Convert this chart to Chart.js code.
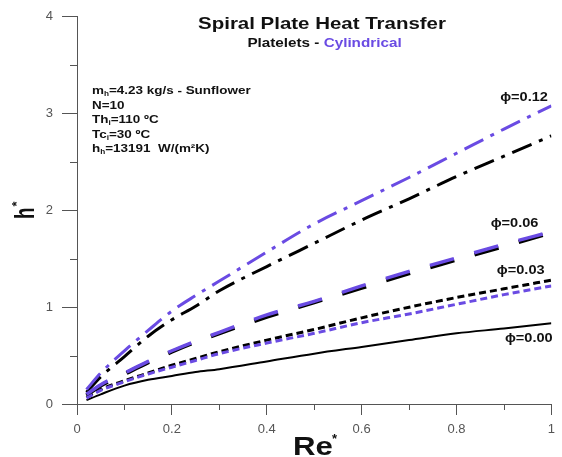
<!DOCTYPE html>
<html><head><meta charset="utf-8">
<script src="https://cdn.jsdelivr.net/npm/chart.js@4.4.0/dist/chart.umd.min.js"></script>
<style>html,body{margin:0;padding:0;background:#fff}#wrap{width:562px;height:457px;position:relative}</style>
</head><body><div id="wrap"><canvas id="c" width="562" height="457"></canvas></div>
<script>
// ---- data ----
const reValues = [0.02, 0.05, 0.1, 0.15, 0.2, 0.25, 0.3, 0.4, 0.5, 0.6, 0.7, 0.8, 0.9, 1.0];
const hPhi000 = [0.04, 0.10, 0.19, 0.25, 0.29, 0.33, 0.36, 0.44, 0.52, 0.59, 0.66, 0.73, 0.78, 0.835];
const hPhi003Spiral = [0.07, 0.15, 0.24, 0.32, 0.40, 0.47, 0.54, 0.66, 0.77, 0.89, 1.00, 1.10, 1.19, 1.28];
const hPhi003Cyl = [0.06, 0.14, 0.23, 0.31, 0.38, 0.45, 0.52, 0.63, 0.73, 0.84, 0.93, 1.03, 1.13, 1.22];
const hPhi006Spiral = [0.09, 0.19, 0.31, 0.43, 0.54, 0.64, 0.73, 0.90, 1.05, 1.20, 1.35, 1.49, 1.63, 1.77];
const hPhi006Cyl = [0.10, 0.20, 0.32, 0.44, 0.55, 0.65, 0.74, 0.92, 1.06, 1.22, 1.37, 1.51, 1.65, 1.78];
const hPhi012Spiral = [0.12, 0.28, 0.49, 0.70, 0.87, 1.01, 1.17, 1.42, 1.66, 1.90, 2.12, 2.35, 2.56, 2.77];
const hPhi012Cyl = [0.15, 0.32, 0.55, 0.76, 0.96, 1.12, 1.27, 1.57, 1.86, 2.10, 2.34, 2.59, 2.84, 3.08];
const xTickLabels = ['0', '0.2', '0.4', '0.6', '0.8', '1'];
const yTickLabels = ['0', '1', '2', '3', '4'];
const phiLabels = [
  { text: 'ϕ=0.12', x: 0.892, y: 3.17 },
  { text: 'ϕ=0.06', x: 0.872, y: 1.87 },
  { text: 'ϕ=0.03', x: 0.885, y: 1.38 },
  { text: 'ϕ=0.00', x: 0.902, y: 0.68 }
];

const PURPLE = '#6a4be3';
const FONT = '"Liberation Sans", Arial, Helvetica, sans-serif';
const pts = arr => arr.map((v, i) => ({ x: reValues[i], y: v }));

function ds(data, color, dash, width) {
  return { data: pts(data), borderColor: color, borderWidth: width, borderDash: dash,
    pointRadius: 0, fill: false, cubicInterpolationMode: 'monotone', borderCapStyle: 'butt' };
}

const datasets = [
  ds(hPhi012Cyl, PURPLE, [21, 8, 4, 8], 3),
  ds(hPhi006Cyl, PURPLE, [25, 21], 3.5),
  ds(hPhi003Cyl, PURPLE, [7, 4], 3),
  ds(hPhi012Spiral, '#000', [21, 8, 4, 8], 3),
  ds(hPhi006Spiral, '#000', [25, 21], 4),
  ds(hPhi003Spiral, '#000', [7, 4], 3),
  ds(hPhi000, '#000', [], 2)
];

// draw text runs stretched horizontally by sx (the reference lettering is wide)
function drawRuns(ctx, x, y, runs, sx) {
  ctx.save();
  ctx.translate(x, y);
  ctx.scale(sx, 1);
  let cx = 0;
  for (const r of runs) {
    ctx.font = r.font;
    ctx.fillStyle = r.color || '#111';
    ctx.fillText(r.t, cx, r.dy || 0);
    cx += ctx.measureText(r.t).width;
  }
  ctx.restore();
  return cx * sx;
}
function runsWidth(ctx, runs, sx) {
  let w = 0;
  for (const r of runs) { ctx.font = r.font; w += ctx.measureText(r.t).width; }
  return w * sx;
}

const annot = {
  id: 'annot',
  afterDraw(chart) {
    const ctx = chart.ctx;
    const xs = chart.scales.x, ys = chart.scales.y;
    ctx.save();
    // minor ticks
    ctx.strokeStyle = '#555'; ctx.lineWidth = 1;
    for (let k = 1; k < 10; k += 2) {
      const px = Math.round(xs.getPixelForValue(k / 10)) + 0.5;
      ctx.beginPath(); ctx.moveTo(px, ys.bottom); ctx.lineTo(px, ys.bottom + 6); ctx.stroke();
    }
    for (let k = 0; k < 4; k++) {
      const py = Math.round(ys.getPixelForValue(k + 0.5)) + 0.5;
      ctx.beginPath(); ctx.moveTo(xs.left, py); ctx.lineTo(xs.left - 7, py); ctx.stroke();
    }
    ctx.textBaseline = 'alphabetic';
    ctx.textAlign = 'left';
    // title
    const T = [{ t: 'Spiral Plate Heat Transfer', font: 'bold 16.5px ' + FONT }];
    const tw = runsWidth(ctx, T, 1.24);
    drawRuns(ctx, 322 - tw / 2, 29, T, 1.24);
    const ST = [{ t: 'Platelets - ', font: 'bold 12.5px ' + FONT },
                { t: 'Cylindrical', font: 'bold 12.5px ' + FONT, color: PURPLE }];
    const sw = runsWidth(ctx, ST, 1.22);
    drawRuns(ctx, 324.5 - sw / 2, 46.5, ST, 1.22);
    // parameter block
    const B = 'bold 11.5px ' + FONT, S = 'bold 7px ' + FONT, K = 1.17;
    drawRuns(ctx, 92, 94, [{ t: 'm', font: B }, { t: 'h', font: S, dy: 2 }, { t: '=4.23 kg/s - Sunflower', font: B }], K);
    drawRuns(ctx, 92, 109, [{ t: 'N=10', font: B }], K);
    drawRuns(ctx, 92, 123, [{ t: 'Th', font: B }, { t: 'i', font: S, dy: 2 }, { t: '=110 ºC', font: B }], K);
    drawRuns(ctx, 92, 137.5, [{ t: 'Tc', font: B }, { t: 'i', font: S, dy: 2 }, { t: '=30 ºC', font: B }], K);
    drawRuns(ctx, 92, 152, [{ t: 'h', font: B }, { t: 'h', font: S, dy: 2 }, { t: '=13191  W/(m²K)', font: B }], K);
    // phi labels
    ctx.textBaseline = 'middle';
    for (const l of phiLabels) {
      drawRuns(ctx, xs.getPixelForValue(l.x), ys.getPixelForValue(l.y),
        [{ t: l.text, font: 'bold 13px ' + FONT }], 1.12);
    }
    // x axis title
    ctx.textBaseline = 'alphabetic';
    const rw = drawRuns(ctx, 293, 455, [{ t: 'Re', font: 'bold 26px ' + FONT }], 1.2);
    drawRuns(ctx, 292 + rw, 443, [{ t: '*', font: 'bold 13px ' + FONT }], 1);
    // y axis title (rotated)
    ctx.translate(34, 219);
    ctx.rotate(-Math.PI / 2);
    ctx.save();
    ctx.scale(0.7, 1);
    ctx.font = 'bold 27px ' + FONT;
    ctx.fillStyle = '#111';
    ctx.fillText('h', 0, 0);
    const wh = ctx.measureText('h').width * 0.7;
    ctx.restore();
    ctx.font = 'bold 13px ' + FONT;
    ctx.fillStyle = '#111';
    ctx.fillText('*', wh + 1, -13);
    ctx.restore();
  }
};

const isMajor = (v, step) => Math.abs(v / step - Math.round(v / step)) < 1e-6;

new Chart(document.getElementById('c'), {
  type: 'line',
  data: { datasets },
  plugins: [annot],
  options: {
    responsive: false,
    animation: false,
    layout: { padding: { top: 16, right: 7, left: 0, bottom: 0 } },
    plugins: { legend: { display: false }, tooltip: { enabled: false } },
    scales: {
      x: {
        type: 'linear', min: 0, max: 1,
        afterFit: s => { s.height = 53; },
        ticks: {
          stepSize: 0.2, padding: 7, color: '#555', font: { size: 13, family: FONT },
          maxRotation: 0, autoSkip: false,
          callback: (v) => { const i = Math.round(v * 5); return isMajor(v, 0.2) ? xTickLabels[i] : ''; }
        },
        grid: { drawOnChartArea: false, drawTicks: true, tickLength: 11, color: '#555', lineWidth: 1 },
        border: { display: true, color: '#555', width: 1 }
      },
      y: {
        type: 'linear', min: 0, max: 4,
        afterFit: s => { s.width = 77; },
        ticks: {
          stepSize: 1, padding: 9, color: '#555', font: { size: 13, family: FONT },
          callback: (v) => isMajor(v, 1) ? yTickLabels[Math.round(v)] : ''
        },
        grid: { drawOnChartArea: false, drawTicks: true, tickLength: 15, color: '#555', lineWidth: 1 },
        border: { display: true, color: '#555', width: 1 }
      }
    }
  }
});
</script></body></html>
